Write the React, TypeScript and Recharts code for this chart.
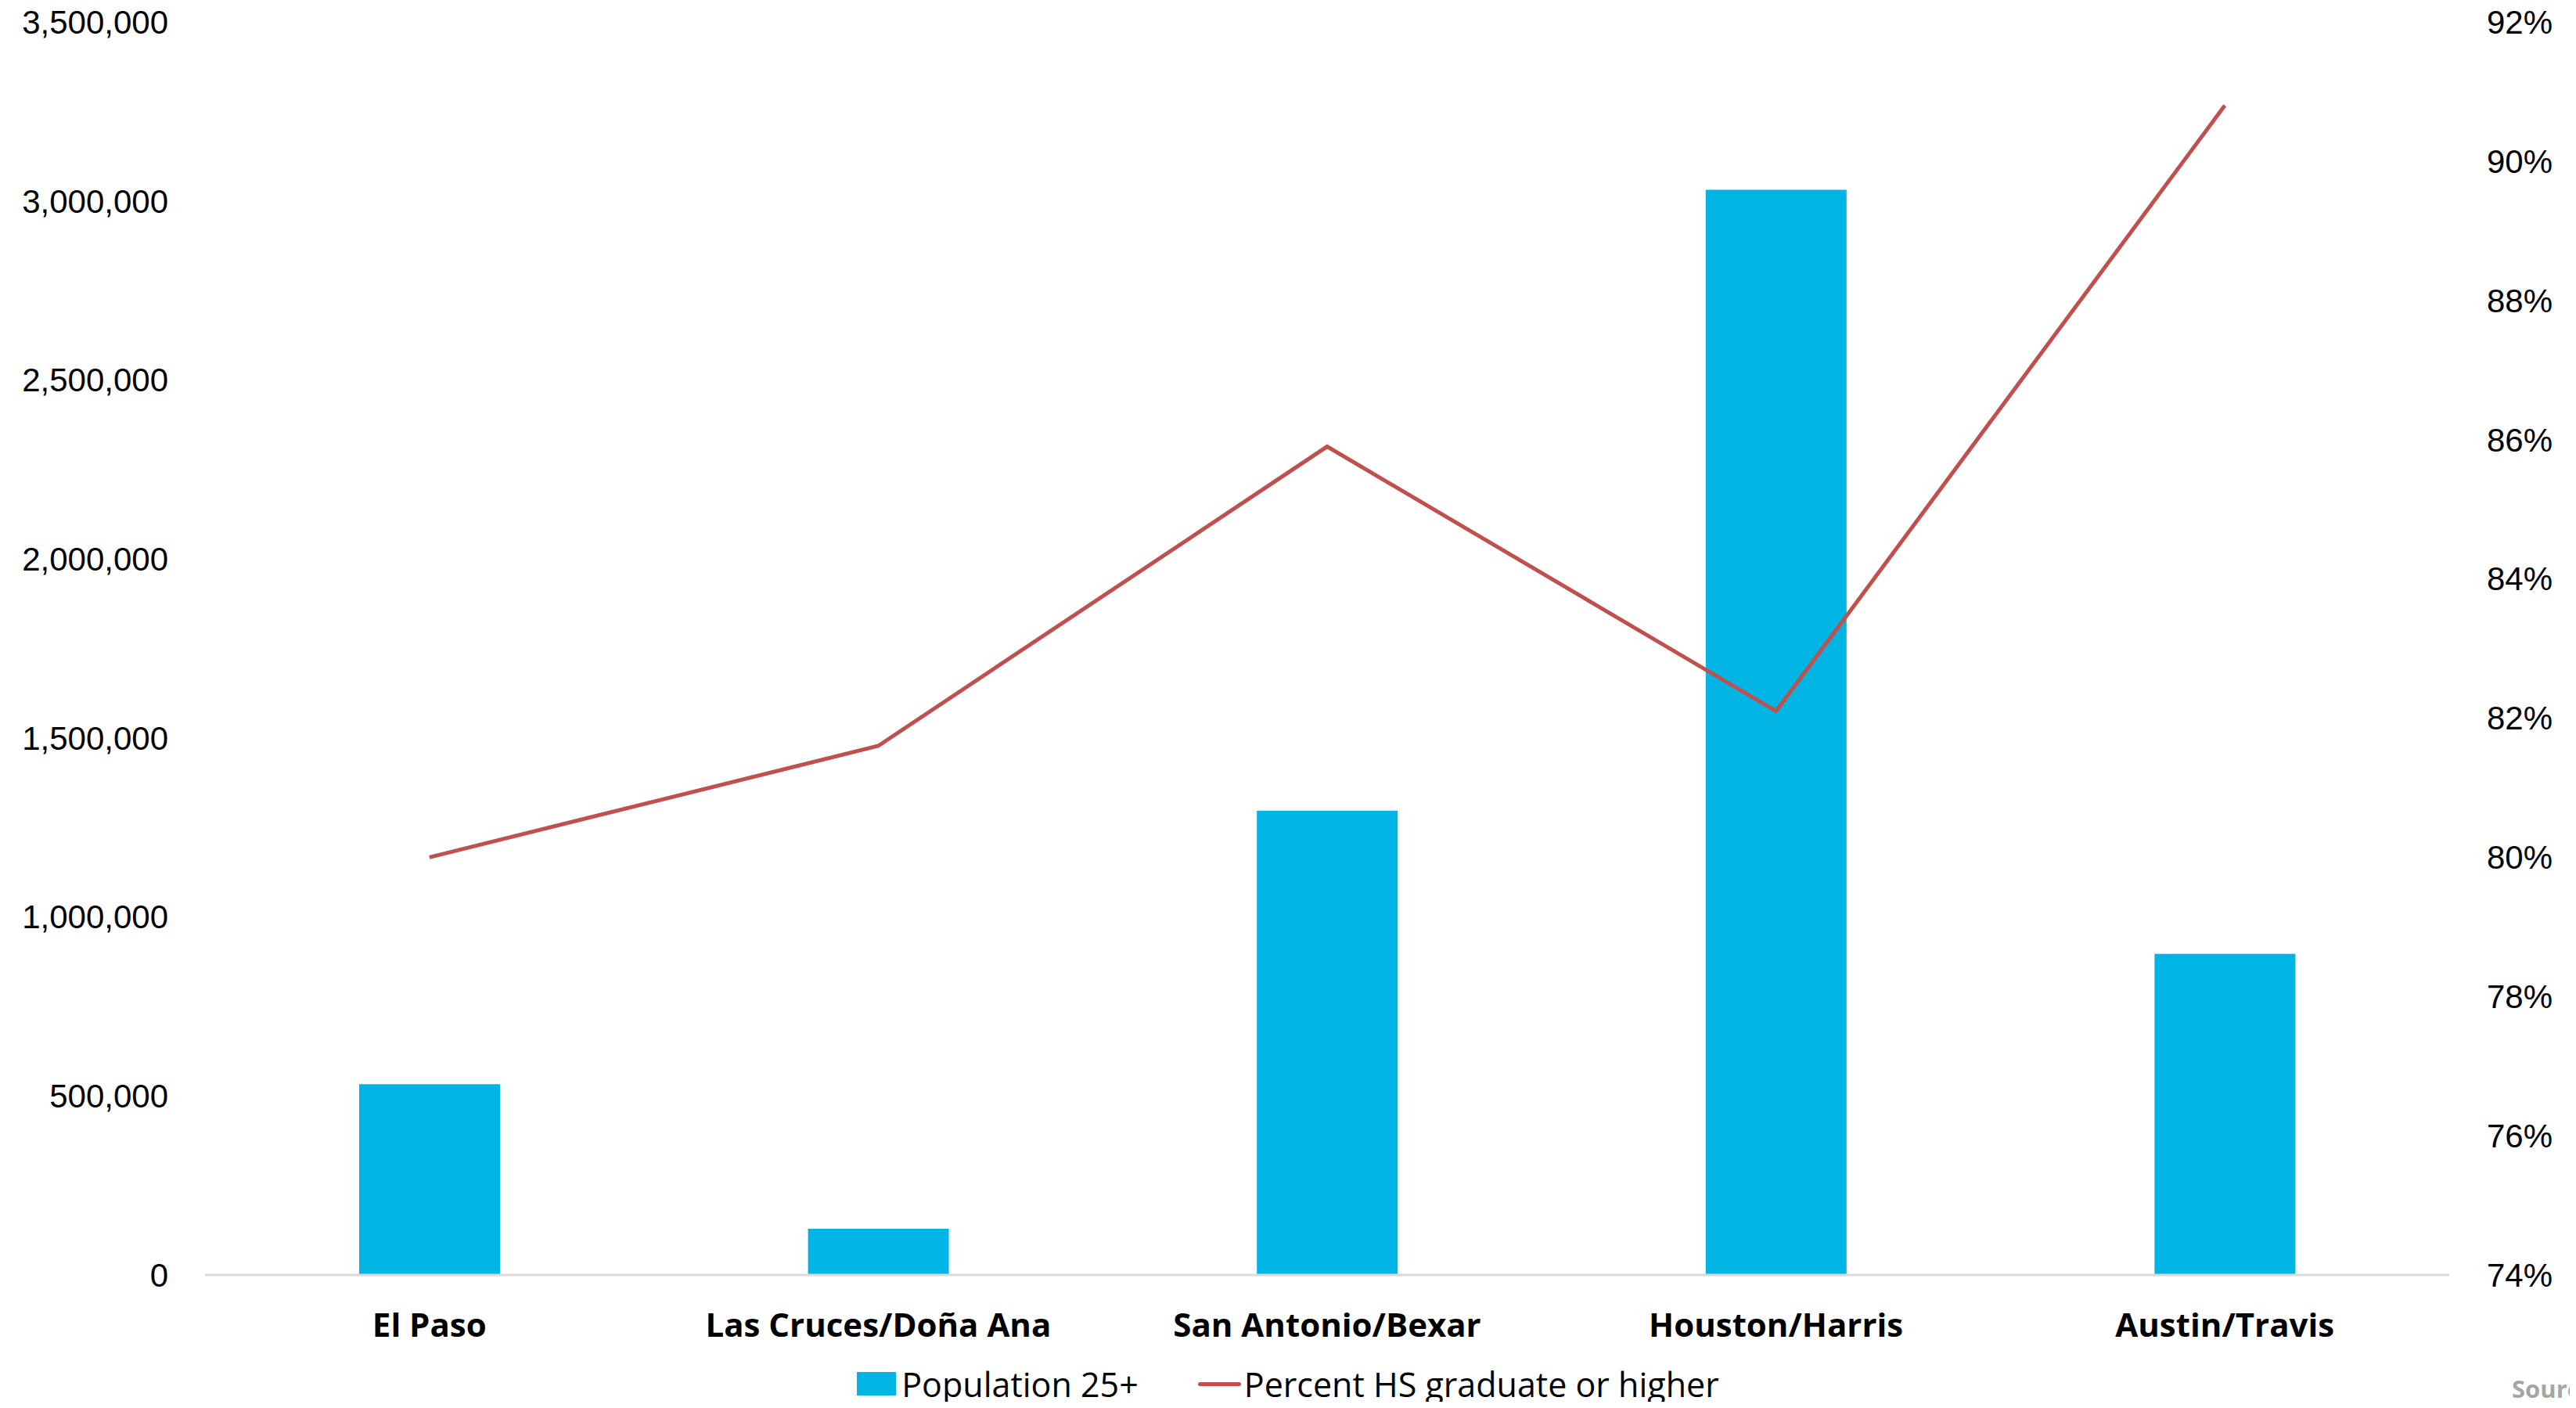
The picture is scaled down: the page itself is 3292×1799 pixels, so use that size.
import React from "react";
import {
  ComposedChart,
  Bar,
  Line,
  XAxis,
  YAxis,
  Legend,
} from "recharts";

const categories = [
  "El Paso",
  "Las Cruces/Doña Ana",
  "San Antonio/Bexar",
  "Houston/Harris",
  "Austin/Travis",
];
const population25 = [533000, 129000, 1297000, 3031000, 897000];
const percentHS = [0.8, 0.816, 0.859, 0.821, 0.908];
const leftTicks = [0, 500000, 1000000, 1500000, 2000000, 2500000, 3000000, 3500000];
const rightTicks = [0.74, 0.76, 0.78, 0.8, 0.82, 0.84, 0.86, 0.88, 0.9, 0.92];
const seriesNames = ["Population 25+", "Percent HS graduate or higher"];
const sourceText = "Source: U.S. Census Bureau, American Community Survey 5-year estimates";

const data = categories.map((c, i) => ({
  name: c,
  pop: population25[i],
  pct: percentHS[i],
}));

const BAR_COLOR = "#00B5E3";
const LINE_COLOR = "#C0504D";
const TICK_FONT = "'Liberation Sans', Arial, sans-serif";
const LABEL_FONT = "'Open Sans', 'Noto Sans', sans-serif";

const fmtNum = (v: number) => v.toLocaleString("en-US");
const fmtPct = (v: number) => `${Math.round(v * 100)}%`;

const LegendContent = () => (
  <div
    style={{
      display: "flex",
      justifyContent: "center",
      alignItems: "center",
      fontFamily: LABEL_FONT,
      fontSize: 43,
      lineHeight: 1,
      color: "#000",
      height: 50,
      width: "100%",
    }}
  >
    <div style={{ display: "flex", alignItems: "center", marginRight: 76 }}>
      <div style={{ width: 50, height: 30, background: BAR_COLOR, marginRight: 7 }} />
      <span>{seriesNames[0]}</span>
    </div>
    <div style={{ display: "flex", alignItems: "center" }}>
      <div style={{ width: 55, height: 5, background: LINE_COLOR, marginRight: 4, borderRadius: 3 }} />
      <span>{seriesNames[1]}</span>
    </div>
  </div>
);

export default function App() {
  return (
    <div
      style={{
        position: "relative",
        width: 3292,
        height: 1799,
        margin: -8,
        overflow: "hidden",
        background: "#fff",
      }}
    >
      <ComposedChart
        width={3292}
        height={1799}
        data={data}
        margin={{ top: 28, right: 0, bottom: 6, left: 0 }}
      >
        <XAxis
          dataKey="name"
          axisLine={{ stroke: "#D9D9D9", strokeWidth: 3 }}
          tickLine={false}
          tickMargin={43}
          height={114}
          interval={0}
          tick={{ fill: "#000", fontFamily: LABEL_FONT, fontSize: 42, fontWeight: 700 }}
        />
        <YAxis
          yAxisId="left"
          orientation="left"
          domain={[0, 3500000]}
          ticks={leftTicks}
          tickFormatter={fmtNum}
          axisLine={false}
          tickLine={false}
          width={262}
          tickMargin={41}
          tick={{ fill: "#000", fontFamily: TICK_FONT, fontSize: 42 }}
        />
        <YAxis
          yAxisId="right"
          orientation="right"
          domain={[0.74, 0.92]}
          ticks={rightTicks}
          tickFormatter={fmtPct}
          axisLine={false}
          tickLine={false}
          width={162}
          tickMargin={42}
          tick={{ fill: "#000", fontFamily: TICK_FONT, fontSize: 42 }}
        />
        <Legend verticalAlign="bottom" height={50} content={<LegendContent />} />
        <Bar
          yAxisId="left"
          dataKey="pop"
          name={seriesNames[0]}
          fill={BAR_COLOR}
          barSize={180}
          isAnimationActive={false}
        />
        <Line
          yAxisId="right"
          dataKey="pct"
          name={seriesNames[1]}
          stroke={LINE_COLOR}
          strokeWidth={5}
          dot={false}
          activeDot={false}
          type="linear"
          isAnimationActive={false}
        />
      </ComposedChart>
      <div
        style={{
          position: "absolute",
          left: 3210,
          top: 1756,
          whiteSpace: "nowrap",
          fontFamily: LABEL_FONT,
          fontWeight: 700,
          fontSize: 31,
          lineHeight: 1.2,
          color: "#A6A6A6",
        }}
      >
        {sourceText}
      </div>
    </div>
  );
}
